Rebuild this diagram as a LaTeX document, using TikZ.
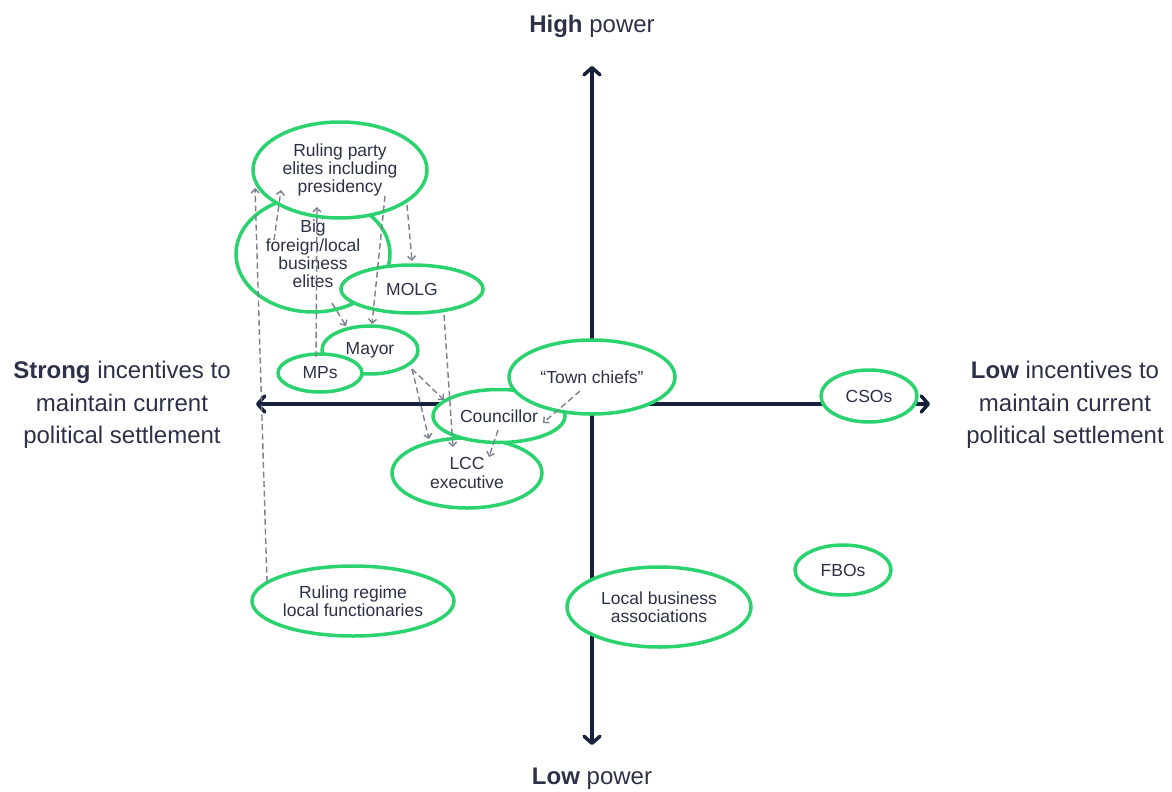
\documentclass[tikz,border=0pt]{standalone}
\usepackage{fontspec}
\setmainfont{Liberation Sans}
\usetikzlibrary{shapes.geometric,arrows.meta}
\definecolor{actgreen}{HTML}{2BD36E}
\definecolor{axisnavy}{HTML}{17203D}
\definecolor{txtnavy}{HTML}{2C3148}
\definecolor{arrgray}{HTML}{7B7F8E}

\begin{document}
\begin{tikzpicture}[
      x=1pt, y=-1pt,
      actor/.style 2 args={ellipse, draw=actgreen, fill=white, line width=3.5pt,
        inner sep=0pt, minimum width=#1pt, minimum height=#2pt},
      lbl/.style={text=txtnavy, align=center, font=\fontsize{17.5}{18.2}\selectfont},
      axislbl/.style={text=txtnavy, align=center, font=\fontsize{24}{32.5}\selectfont},
      axis/.style={axisnavy, line width=3.5pt,
        {Straight Barb[round,length=7pt,width=16pt]}-{Straight Barb[round,length=7pt,width=16pt]}},
      infl/.style={arrgray, line width=1.4pt, dash pattern=on 6pt off 3.5pt,
        -{Straight Barb[length=4pt,width=8pt]}}
      ]
      \useasboundingbox (0,0) rectangle (1172,792);
      % axes
      \coordinate (W) at (256,404);
      \coordinate (E) at (930,404);
      \coordinate (N) at (592,66);
      \coordinate (S) at (592,745);
      \draw[axis] (W) -- (E);
      \draw[axis] (S) -- (N);
      \node[axislbl] (hp) at (592,26) {\textbf{High} power};
      \node[axislbl] (lp) at (592,779) {\textbf{Low} power};
      \node[axislbl] (si) at (122,405) {\textbf{Strong} incentives to\\maintain current\\political settlement};
      \node[axislbl] (li) at (1065,405) {\textbf{Low} incentives to\\maintain current\\political settlement};
      % actors
      \node[actor={154}{116}] (bb) at (313,254) {};
      \node[lbl] at (bb) {Big\\foreign/local\\business\\elites};
      \node[actor={174}{96}] (rp) at (340,170) {};
      \node[lbl] at (rp) {Ruling party\\elites including\\presidency};
      \node[actor={142}{48}] (mo) at (412,289) {};
      \node[lbl] at (mo) {MOLG};
      \node[actor={96}{48}] (my) at (370,350) {};
      \node[lbl] at (my) {Mayor};
      \node[actor={84}{38}] (mp) at (320,373) {};
      \node[lbl] at (mp) {MPs};
      \node[actor={150}{70}] (lc) at (467,473) {};
      \node[lbl] at (lc) {LCC\\executive};
      \node[actor={132}{53}] (co) at (499,416) {};
      \node[lbl] at (co) {Councillor};
      \node[actor={166}{74}] (tc) at (592,377) {};
      \node[lbl] at (tc) {“Town chiefs”};
      \node[actor={96}{52}] (cs) at (869,396) {};
      \node[lbl] at (cs) {CSOs};
      \node[actor={96}{50}] (fb) at (843,570) {};
      \node[lbl] at (fb) {FBOs};
      \node[actor={202}{70}] (rr) at (353,601) {};
      \node[lbl] at (rr) {Ruling regime\\local functionaries};
      \node[actor={184}{80}] (lb) at (659,607) {};
      \node[lbl] at (lb) {Local business\\associations};
      % influence
      \draw[infl] ([shift={(-86,-19)}]rr.center) -- ([shift={(-85,18)}]rp.center);
      \draw[infl] ([shift={(-39,-14)}]bb.center) -- ([shift={(-59,20)}]rp.center);
      \draw[infl] ([shift={(-4,-16)}]mp.center) -- ([shift={(-23,37)}]rp.center);
      \draw[infl] ([shift={(45,26)}]rp.center) -- ([shift={(2,-26)}]my.center);
      \draw[infl] ([shift={(67,35)}]rp.center) -- ([shift={(0,-28)}]mo.center);
      \draw[infl] ([shift={(19,49)}]bb.center) -- ([shift={(-24,-24)}]my.center);
      \draw[infl] ([shift={(32,26)}]mo.center) -- ([shift={(-14,-26)}]lc.center);
      \draw[infl] ([shift={(42,19)}]my.center) -- ([shift={(-55,-16)}]co.center);
      \draw[infl] ([shift={(42,19)}]my.center) -- ([shift={(-38,-34)}]lc.center);
      \draw[infl] ([shift={(-1,14)}]co.center) -- ([shift={(22,-16)}]lc.center);
      \draw[infl] ([shift={(-12,14)}]tc.center) -- ([shift={(44,7)}]co.center);
    \end{tikzpicture}
\end{document}
